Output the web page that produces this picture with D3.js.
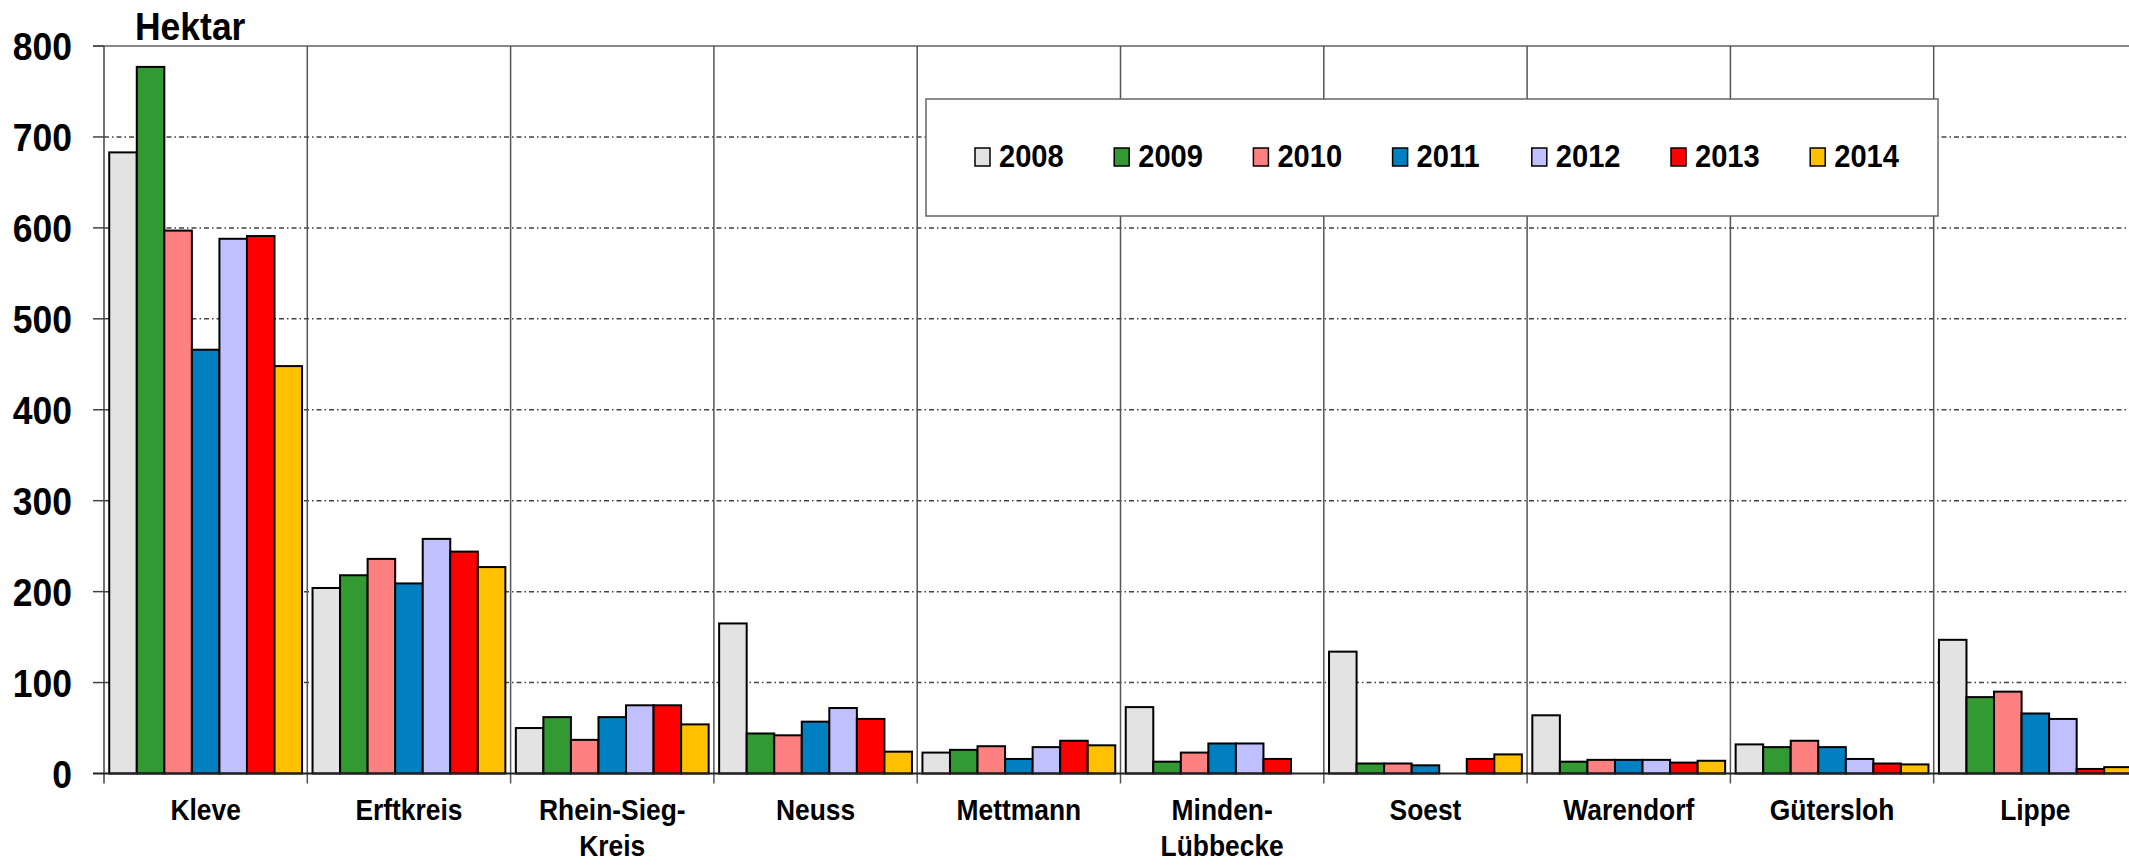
<!DOCTYPE html>
<html>
<head>
<meta charset="utf-8">
<script src="https://cdn.jsdelivr.net/npm/d3@7"></script>
<style>
    body { margin: 0; background: #fff; }
    text { font-family: "Liberation Sans", Arial, sans-serif; font-weight: bold; fill: #000; }
</style>
</head>
<body>
<svg></svg>
<script>
var categories = ["Kleve", "Erftkreis", "Rhein-Sieg-Kreis", "Neuss", "Mettmann",
                  "Minden-Lübbecke", "Soest", "Warendorf", "Gütersloh", "Lippe"];
var years = ["2008", "2009", "2010", "2011", "2012", "2013", "2014"];
var colors = ["#e3e3e3", "#339933", "#ff8080", "#0080c0", "#c0c0ff", "#ff0000", "#ffc000"];

// Hektar per Kreis, one array per year
var v2008 = [683, 204, 50, 165, 23, 73, 134, 64, 32, 147];
var v2009 = [777, 218, 62, 44, 26, 13, 11, 13, 29, 84];
var v2010 = [597, 236, 37, 42, 30, 23, 11, 15, 36, 90];
var v2011 = [466, 209, 62, 57, 16, 33, 9, 15, 29, 66];
var v2012 = [588, 258, 75, 72, 29, 33, 0, 15, 16, 60];
var v2013 = [591, 244, 75, 60, 36, 16, 16, 12, 11, 5];
var v2014 = [448, 227, 54, 24, 31, 0, 21, 14, 10, 7];
var series = [v2008, v2009, v2010, v2011, v2012, v2013, v2014];

var yTicks = [0, 100, 200, 300, 400, 500, 600, 700, 800];
var yLabel = "Hektar";

var width = 2129,
    height = 867,
    plot = {left: 104, top: 46, right: 2137, bottom: 773.5},
    squeeze = 0.91; // bold narrow look

var svg = d3.select("svg")
        .attr("width", width)
        .attr("height", height);

var xScale = d3.scaleBand()
        .domain(categories)
        .range([plot.left, plot.right])
        .padding(0);

var xSub = d3.scaleBand()
        .domain(years)
        .range([0, xScale.bandwidth()])
        .paddingInner(0)
        .paddingOuter(0.19);

var yScale = d3.scaleLinear()
        .domain([0, 800])
        .range([plot.bottom, plot.top]);

function narrowText(sel, x, y, size, anchor) {
    return sel.append("text")
            .attr("transform", "translate(" + x + "," + y + ") scale(" + squeeze + ",1)")
            .attr("text-anchor", anchor)
            .style("font-size", size + "px");
}

// horizontal grid, dash-dot
svg.append("g")
        .selectAll("line")
        .data(yTicks.filter(function (d) { return d > 0 && d < 800; }))
        .enter().append("line")
        .attr("x1", plot.left)
        .attr("x2", width)
        .attr("y1", function (d) { return yScale(d); })
        .attr("y2", function (d) { return yScale(d); })
        .attr("stroke", "#444")
        .attr("stroke-width", 1.5)
        .attr("stroke-dasharray", "5,3,1.5,3");

// top border
svg.append("line")
        .attr("x1", plot.left - 11).attr("x2", width)
        .attr("y1", yScale(800)).attr("y2", yScale(800))
        .attr("stroke", "#888").attr("stroke-width", 2);

// category dividers
svg.append("g")
        .selectAll("line")
        .data(categories.slice(1))
        .enter().append("line")
        .attr("x1", function (d) { return xScale(d); })
        .attr("x2", function (d) { return xScale(d); })
        .attr("y1", plot.top)
        .attr("y2", plot.bottom + 10)
        .attr("stroke", "#555")
        .attr("stroke-width", 1.5);

// bars
var groups = svg.append("g")
        .selectAll("g")
        .data(categories)
        .enter().append("g")
        .attr("transform", function (d) { return "translate(" + xScale(d) + ",0)"; });

groups.selectAll("rect")
        .data(function (d, i) {
            return years.map(function (y, j) {
                return {year: y, value: series[j][i], color: colors[j]};
            });
        })
        .enter().append("rect")
        .filter(function (d) { return d.value > 0; })
        .attr("x", function (d) { return xSub(d.year); })
        .attr("y", function (d) { return yScale(d.value); })
        .attr("width", xSub.bandwidth())
        .attr("height", function (d) { return plot.bottom - yScale(d.value); })
        .attr("fill", function (d) { return d.color; })
        .attr("stroke", "#000")
        .attr("stroke-width", 2);

// axes lines
svg.append("line")
        .attr("x1", plot.left).attr("x2", plot.left)
        .attr("y1", plot.top).attr("y2", plot.bottom + 10)
        .attr("stroke", "#444").attr("stroke-width", 1.5);

svg.append("line")
        .attr("x1", plot.left - 11).attr("x2", width)
        .attr("y1", plot.bottom).attr("y2", plot.bottom)
        .attr("stroke", "#222").attr("stroke-width", 2);

svg.append("g")
        .selectAll("line")
        .data(yTicks.slice(1))
        .enter().append("line")
        .attr("x1", plot.left - 11).attr("x2", plot.left)
        .attr("y1", function (d) { return yScale(d); })
        .attr("y2", function (d) { return yScale(d); })
        .attr("stroke", "#444").attr("stroke-width", 1.5);

// y tick labels
yTicks.forEach(function (t) {
    narrowText(svg, 72, yScale(t) + 14, 39, "end").text(t);
});

narrowText(svg, 135, 40, 39, "start").text(yLabel);

// category labels, broken after the last hyphen
categories.forEach(function (c) {
    var cx = xScale(c) + xScale.bandwidth() / 2,
        cut = c.lastIndexOf("-"),
        lines = cut > 0 ? [c.slice(0, cut + 1), c.slice(cut + 1)] : [c];
    lines.forEach(function (l, k) {
        narrowText(svg, cx, 820 + k * 36, 29, "middle").text(l);
    });
});

// legend
var legend = svg.append("g");
legend.append("rect")
        .attr("x", 926).attr("y", 99)
        .attr("width", 1012).attr("height", 117)
        .attr("fill", "#fff")
        .attr("stroke", "#666")
        .attr("stroke-width", 1.5);

years.forEach(function (y, j) {
    var lx = 975 + j * 139.2;
    legend.append("rect")
            .attr("x", lx).attr("y", 148)
            .attr("width", 15).attr("height", 18)
            .attr("fill", colors[j])
            .attr("stroke", "#000")
            .attr("stroke-width", 1.5);
    narrowText(legend, lx + 24, 167, 32, "start").text(y);
});
</script>
</body>
</html>
